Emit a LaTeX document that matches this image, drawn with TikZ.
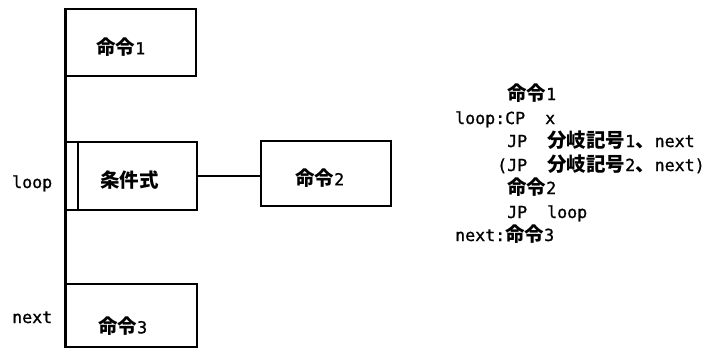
\documentclass[tikz,border=0pt]{standalone}
\usepackage{fontspec}
\usetikzlibrary{calc}
\newfontfamily\monofnt{DejaVu Sans Mono}[FakeBold=1]
\newfontfamily\cjkfnt{Noto Sans CJK JP}
\newcommand\J[1]{{\cjkfnt\bfseries\fontsize{19.5pt}{20pt}\selectfont #1}}
\tikzset{
  box/.style={draw, line width=1.6pt, inner sep=0pt, rectangle},
  txt/.style={inner sep=0pt, font=\monofnt\fontsize{16.61pt}{20pt}\selectfont},
  spine/.style={line width=3pt},
  link/.style={line width=1.2pt},
}
\begin{document}
\begin{tikzpicture}[x=1pt,y=-1pt]
\useasboundingbox (0,0) rectangle (712,353);
% boxes
\node[box, minimum width=130pt, minimum height=67pt] (b1) at (131,42.5) {};
\node[box, minimum width=131pt, minimum height=68pt] (cond) at (131.5,176) {};
\node[box, minimum width=130pt, minimum height=65pt] (b2) at (326,173.5) {};
\node[box, minimum width=131pt, minimum height=63pt] (b3) at (131.5,315.5) {};
% box texts
\node[txt, anchor=west] (t1) at (96,47) {\J{命令}1};
\node[txt, anchor=west] (tc) at (100,180) {\J{条件式}};
\node[txt, anchor=west] (t2) at (295,178) {\J{命令}2};
\node[txt, anchor=west] (t3) at (98,326) {\J{命令}3};
% spine and inner line
\draw[spine] (b1.north west) -- (b3.south west);
\draw[box] ($(cond.north west)+(13,0)$) -- ($(cond.south west)+(13,0)$);
\draw[link] (cond.east) -- (cond.east -| b2.west);
% left labels
\node[txt, anchor=base west] (lloop) at (12,188) {loop};
\node[txt, anchor=base west] (lnext) at (12,323) {next};
% program listing
\node[txt, anchor=base west] (p1) at (455,100) {\hspace*{52pt}\J{命令}1};
\node[txt, anchor=base west] (p2) at (455,124) {loop:CP\hspace*{20pt}x};
\node[txt, anchor=base west] (p3) at (455,147) {\hspace*{52pt}JP\hspace*{20pt}\J{分岐記号}1\J{、}next};
\node[txt, anchor=base west] (p4) at (455,171) {\hspace*{42pt}(JP\hspace*{20pt}\J{分岐記号}2\J{、}next)};
\node[txt, anchor=base west] (p5) at (455,194) {\hspace*{52pt}\J{命令}2};
\node[txt, anchor=base west] (p6) at (455,218) {\hspace*{52pt}JP\hspace*{20pt}loop};
\node[txt, anchor=base west] (p7) at (455,241) {next:\J{命令}3};
\end{tikzpicture}
\end{document}
